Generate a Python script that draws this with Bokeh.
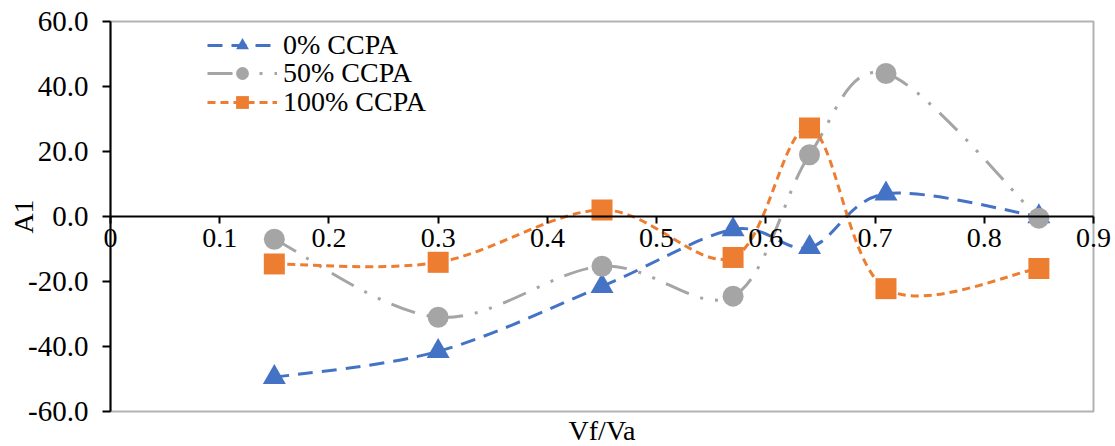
import math
from bokeh.plotting import figure
from bokeh.models import (Range1d, FixedTicker, NumeralTickFormatter, Legend,
                          LegendItem, Label, ColumnDataSource, BoxAnnotation)
from bokeh.embed import file_html
from bokeh.resources import INLINE

# ---------------- data ----------------
vf_va = [0.15, 0.30, 0.45, 0.57, 0.64, 0.71, 0.85]
a1_ccpa_0 = [-49.5, -41.5, -21.5, -4.0, -9.5, 7.0, 0.0]
a1_ccpa_50 = [-7.0, -31.0, -15.3, -24.5, 19.0, 44.0, -0.5]
a1_ccpa_100 = [-14.6, -14.1, 2.0, -12.6, 27.2, -22.2, -16.0]
series_labels = ["0% CCPA", "50% CCPA", "100% CCPA"]
x_ticks = [0, 0.1, 0.2, 0.3, 0.4, 0.5, 0.6, 0.7, 0.8, 0.9]
x_tick_labels = ["0", "0.1", "0.2", "0.3", "0.4", "0.5", "0.6", "0.7", "0.8", "0.9"]
y_ticks = [-60, -40, -20, 0, 20, 40, 60]
x_title = "Vf/Va"
y_title = "A1"

FONT = "Liberation Serif"
FS = "28px"

# ---------------- layout (pixels) ----------------
W, H = 1115, 446
X_MIN, X_MAX = 0.0, 0.9
Y_MIN, Y_MAX = -60.0, 60.0
PLOT_L, PLOT_R, PLOT_T, PLOT_B = 110, 1093, 21, 411   # plot-box edges in px
X_TITLE_PX = 430                                       # x-title centre, px from top
LEGEND_X = 207                                         # legend left, px
LEGEND_ROW_PX = [45, 73, 102]                          # legend row centres, px from top
LEGEND_ROW_H = 32
xs_per_px = (X_MAX - X_MIN) / (PLOT_R - PLOT_L)
ys_per_px = (Y_MAX - Y_MIN) / (PLOT_B - PLOT_T)
x_range = Range1d(X_MIN - PLOT_L * xs_per_px, X_MAX + (W - PLOT_R) * xs_per_px)
y_range = Range1d(Y_MIN - (H - PLOT_B) * ys_per_px, Y_MAX + PLOT_T * ys_per_px)


def smooth_segments(xs, ys):
    """Catmull-Rom style Bezier segments (Excel smoothed line) from data points."""
    n = len(xs)
    d = dict(x0=[], y0=[], x1=[], y1=[], cx0=[], cy0=[], cx1=[], cy1=[])
    for i in range(n - 1):
        im = i - 1 if i > 0 else i
        ip = i + 2 if i + 2 < n else i + 1
        d["x0"].append(xs[i]); d["y0"].append(ys[i])
        d["x1"].append(xs[i + 1]); d["y1"].append(ys[i + 1])
        d["cx0"].append(xs[i] + (xs[i + 1] - xs[im]) / 6.0)
        d["cy0"].append(ys[i] + (ys[i + 1] - ys[im]) / 6.0)
        d["cx1"].append(xs[i + 1] - (xs[ip] - xs[i]) / 6.0)
        d["cy1"].append(ys[i + 1] - (ys[ip] - ys[i]) / 6.0)
    return ColumnDataSource(d)


p = figure(width=W, height=H, output_backend="svg", toolbar_location=None,
           x_range=x_range, y_range=y_range,
           min_border_left=0, min_border_right=0, min_border_top=0,
           min_border_bottom=0)
p.background_fill_color = "white"
p.border_fill_color = "white"
p.outline_line_color = None
p.xgrid.visible = False
p.ygrid.visible = False

# plot-area border
p.add_layout(BoxAnnotation(left=X_MIN, right=X_MAX, bottom=Y_MIN, top=Y_MAX,
                           fill_alpha=0, line_color="black", line_width=2))

styles = [
    dict(color="#4472C4", dash="15 9", marker="triangle", size=23),
    dict(color="#A5A5A5", dash="25 12 3 12 3 12", marker="circle", size=21),
    dict(color="#ED7D31", dash="8 5", marker="square", size=21),
]
series = [a1_ccpa_0, a1_ccpa_50, a1_ccpa_100]

for label, ys, st, row_px in zip(series_labels, series, styles, LEGEND_ROW_PX):
    src = smooth_segments(vf_va, ys)
    b = p.bezier(x0="x0", y0="y0", x1="x1", y1="y1", cx0="cx0", cy0="cy0",
                 cx1="cx1", cy1="cy1", source=src, line_color=st["color"],
                 line_width=3, line_dash=st["dash"])
    s = p.scatter(vf_va, ys, marker=st["marker"], size=st["size"],
                  fill_color=st["color"], line_color=st["color"], line_width=0)
    leg = Legend(items=[LegendItem(label=label, renderers=[b, s])],
                 location=(LEGEND_X, H - row_px - LEGEND_ROW_H // 2),
                 padding=0, margin=0, spacing=0, glyph_width=70,
                 glyph_height=LEGEND_ROW_H, label_standoff=6,
                 border_line_color=None, background_fill_alpha=0,
                 label_text_font=FONT, label_text_font_size=FS,
                 label_text_color="black")
    p.add_layout(leg, "center")

# axes (both pinned to the data origin)
p.xaxis.fixed_location = 0
p.xaxis.bounds = (X_MIN, X_MAX)
p.xaxis.ticker = FixedTicker(ticks=x_ticks)
p.xaxis.major_label_overrides = {t: l for t, l in zip(x_ticks, x_tick_labels)}
p.xaxis.major_tick_in = 0
p.xaxis.major_tick_out = 7
p.xaxis.major_label_standoff = 5
p.xaxis.major_label_text_font_size = FS

p.yaxis.fixed_location = X_MIN
p.yaxis.bounds = (Y_MIN, Y_MAX)
p.yaxis.ticker = FixedTicker(ticks=y_ticks)
p.yaxis.formatter = NumeralTickFormatter(format="0.0")
p.yaxis.major_tick_in = 0
p.yaxis.major_tick_out = 8
p.yaxis.major_label_standoff = 14
p.yaxis.major_label_text_font_size = "29px"

for ax in (p.xaxis, p.yaxis):
    ax.minor_tick_line_color = None
    ax.axis_line_color = "black"
    ax.axis_line_width = 2
    ax.major_tick_line_color = "black"
    ax.major_tick_line_width = 2
    ax.major_label_text_font = FONT
    ax.major_label_text_color = "black"

p.add_layout(Label(x=(X_MIN + X_MAX) / 2, y=Y_MIN - (X_TITLE_PX - PLOT_B) * ys_per_px,
                   x_units="data", y_units="data",
                   text=x_title, text_font=FONT, text_font_size=FS,
                   text_color="black", text_align="center",
                   text_baseline="middle"))
p.add_layout(Label(x=23, y=0, x_units="screen", y_units="data", text=y_title,
                   angle=math.pi / 2, text_font=FONT, text_font_size=FS,
                   text_color="black", text_align="center", text_baseline="middle"))

open("out.html", "w").write(file_html(p, INLINE))
